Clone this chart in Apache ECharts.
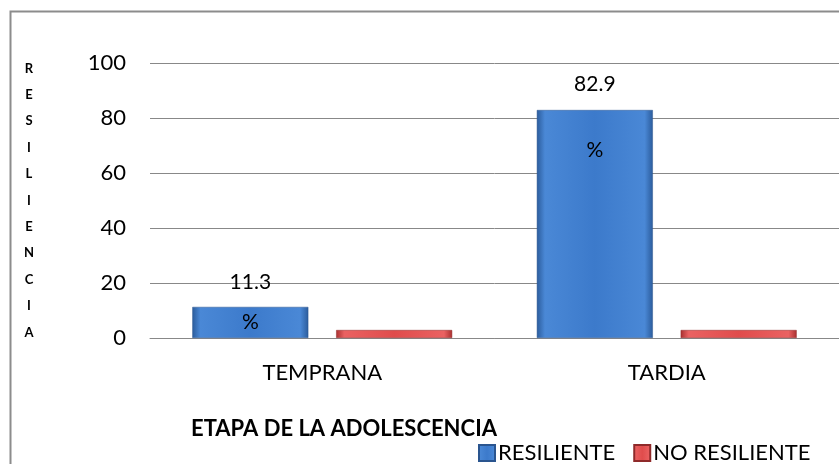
<!DOCTYPE html>
<html>
<head>
<meta charset="utf-8">
<script src="https://cdn.jsdelivr.net/npm/echarts@6/dist/echarts.min.js"></script>
<style>
  html, body { margin: 0; padding: 0; background: #fff; }
  #chart { width: 839px; height: 464px; }
</style>
</head>
<body>
<div id="chart"></div>
<script>
// data
const etapas = ["TEMPRANA", "TARDIA"];
const resiliente = [11.3, 82.9];
const noResiliente = [2.9, 2.9];
const yTicks = [0, 20, 40, 60, 80, 100];
const yTitle = "RESILIENCIA";
const xTitle = "ETAPA DE LA ADOLESCENCIA";

const FONT = "Lato";

// the "%" sits lower inside the tall bar than in the short one
const pctLayout = [
  { offset: [0, 45], lp: 50 },
  { offset: [0, 96], lp: 102 }
];

const blueFill = {
  type: "linear", x: 0, y: 0, x2: 1, y2: 0,
  colorStops: [
    { offset: 0, color: "#2b5c9c" },
    { offset: 0.07, color: "#4a88d6" },
    { offset: 0.5, color: "#3c7acb" },
    { offset: 0.93, color: "#4a88d6" },
    { offset: 1, color: "#2b5c9c" }
  ]
};
const redFill = {
  type: "linear", x: 0, y: 0, x2: 1, y2: 0,
  colorStops: [
    { offset: 0, color: "#a93030" },
    { offset: 0.07, color: "#ea6262" },
    { offset: 0.5, color: "#e04c4c" },
    { offset: 0.93, color: "#ea6262" },
    { offset: 1, color: "#a93030" }
  ]
};

let chart = echarts.init(document.getElementById("chart"));
let option = {
  animation: false,
  title: {
    text: xTitle,
    left: 191,
    top: 418,
    padding: 0,
    textStyle: { fontFamily: FONT, fontSize: 22, fontWeight: "bold", color: "#000" }
  },
  legend: {
    data: ["RESILIENTE", "NO RESILIENTE"],
    left: 478,
    top: 442,
    padding: 0,
    icon: "rect",
    itemWidth: 16,
    itemHeight: 16,
    itemGap: 18,
    textStyle: { fontFamily: FONT, fontSize: 22, color: "#000", padding: [0, 0, 0, -2] }
  },
  graphic: [{
    type: "rect",
    shape: { x: 10.5, y: 11.5, width: 900, height: 600 },
    style: { fill: "none", stroke: "#8c8c8c", lineWidth: 2 },
    silent: true
  }],
  grid: { left: 150, right: 0, top: 63, bottom: 126 },
  xAxis: {
    type: "category",
    data: etapas,
    axisTick: { show: false },
    axisLine: { lineStyle: { color: "#888", width: 1 } },
    axisLabel: { fontFamily: FONT, fontSize: 22, color: "#000", margin: 24 }
  },
  yAxis: {
    type: "value",
    min: yTicks[0],
    max: yTicks[yTicks.length - 1],
    interval: yTicks[1] - yTicks[0],
    name: yTitle.split("").join("\n"),
    nameLocation: "middle",
    nameRotate: 0,
    nameGap: 121,
    nameTextStyle: {
      fontFamily: FONT, fontSize: 13, fontWeight: "bold", color: "#000",
      lineHeight: 26.4, align: "center", verticalAlign: "middle"
    },
    axisLine: { show: false },
    axisTick: { show: false },
    axisLabel: { fontFamily: FONT, fontSize: 22, color: "#000", margin: 24 },
    splitLine: { lineStyle: { color: "#888", width: 1 } }
  },
  series: [
    {
      name: "RESILIENTE",
      type: "bar",
      barWidth: 116,
      barGap: "24%",
      itemStyle: { color: blueFill, borderColor: "#2a558f", borderWidth: 0.5 },
      data: resiliente.map((v, i) => ({
        value: v,
        label: {
          show: true,
          position: "top",
          distance: 5,
          offset: pctLayout[i].offset,
          formatter: (p) => "{n|" + p.value + "}\n{p|%}",
          rich: {
            n: { fontFamily: FONT, fontSize: 21, color: "#000", lineHeight: 30 },
            p: { fontFamily: FONT, fontSize: 21, color: "#000", lineHeight: pctLayout[i].lp }
          }
        }
      }))
    },
    {
      name: "NO RESILIENTE",
      type: "bar",
      barWidth: 116,
      barGap: "24%",
      itemStyle: { color: redFill, borderColor: "#8f2a2a", borderWidth: 0.5 },
      data: noResiliente
    }
  ]
};
chart.setOption(option);
window.addEventListener("resize", () => chart.resize());
</script>
</body>
</html>
